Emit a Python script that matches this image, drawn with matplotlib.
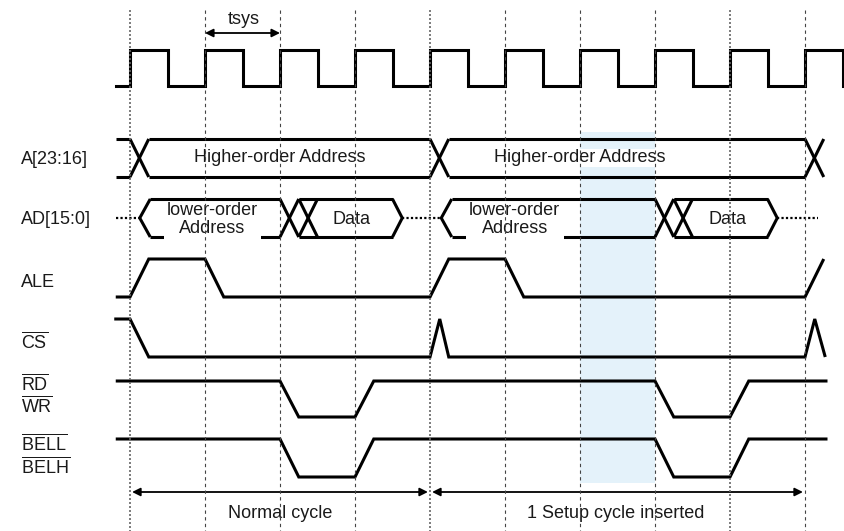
# timing diagram - normal bus cycle vs cycle with 1 setup cycle inserted

import matplotlib.pyplot as plt

plt.rcParams['font.family'] = ['Liberation Sans', 'DejaVu Sans']
plt.rcParams['mathtext.fontset'] = 'custom'
plt.rcParams['mathtext.rm'] = 'Liberation Sans'

# time unit = one clock period (tsys), 0 = first rising edge
CLK_T = [-0.19, 0, 0.5, 1, 1.5, 2, 2.5, 3, 3.5, 4, 4.5, 5, 5.5, 6, 6.5, 7, 7.5, 8, 8.5, 9, 9.5]
CLK_V = [0, 1, 0, 1, 0, 1, 0, 1, 0, 1, 0, 1, 0, 1, 0, 1, 0, 1, 0, 1, 0]

ALE_T = [-0.19, 0, 0.25, 1, 1.25, 4, 4.25, 5, 5.25, 9, 9.25]
ALE_V = [0, 0, 1, 1, 0, 0, 1, 1, 0, 0, 1]

CS_T = [-0.21, 0, 0.25, 4, 4.13, 4.25, 9, 9.13, 9.27]
CS_V = [1, 1, 0, 0, 1, 0, 0, 1, 0]

RDWR_T = [-0.19, 2, 2.25, 3, 3.25, 7, 7.25, 8, 8.25, 9.3]
RDWR_V = [1, 1, 0, 0, 1, 1, 0, 0, 1, 1]

BEL_T = [-0.19, 2, 2.25, 3, 3.25, 7, 7.25, 8, 8.25, 9.3]
BEL_V = [1, 1, 0, 0, 1, 1, 0, 0, 1, 1]

# bus A[23:16]
A_SEGMENTS = [(-0.19, 0), (0.25, 4), (4.25, 9)]
A_CROSSES = [0, 4, 9]
A_LABELS = ['Higher-order Address', 'Higher-order Address']
A_LABEL_T = [2.0, 6.0]

# bus AD[15:0]
AD_SEGMENTS = [(0.27, 2.0), (2.25, 3.5), (4.29, 7.0), (7.25, 8.5)]
AD_CROSSES = [2.0, 2.25, 7.0, 7.25]
AD_OPEN = [0.13, 4.15]
AD_CLOSE = [3.5, 8.5]
AD_FLOAT = [(-0.19, 0.13), (3.63, 4.15), (8.63, 9.17)]
AD_LABELS = ['lower-order\nAddress', 'Data', 'lower-order\nAddress', 'Data']
AD_LABEL_T = [1.1, 2.95, 5.13, 7.96]

SIGNAL_NAMES = ['A[23:16]', 'AD[15:0]', 'ALE', r'$\overline{\mathrm{CS}}$',
                r'$\overline{\mathrm{RD}}$', r'$\overline{\mathrm{WR}}$',
                r'$\overline{\mathrm{BELL}}$', r'$\overline{\mathrm{BELH}}$']
NAME_BASELINE = [164, 224, 287, 348, 390, 412, 450, 473]

GRID_T = [0, 1, 2, 3, 4, 5, 6, 7, 8, 9]
SETUP_CYCLE = (6, 7)
CYCLES = [(0, 4, 'Normal cycle', 2.0), (4, 9, '1 Setup cycle inserted', 6.47)]

# pixel rows (y goes down), high / low level
ROW = {
    'clk': (50, 86),
    'a': (139, 177),
    'ad': (199, 237),
    'ale': (259, 297),
    'cs': (319, 357),
    'rdwr': (381, 417),
    'bel': (439, 477),
}

LW = 2.2
INK = '#000000'
TXT = '#1a1a1a'
NAME_X = (21 - 130) / 75

fig = plt.figure(figsize=(8.45, 5.31), dpi=100)
ax = fig.add_axes([0, 0, 1, 1])
ax.set_xlim(-130 / 75, 715 / 75)
ax.set_ylim(531, 0)
ax.axis('off')


def level(row, values):
    hi, lo = ROW[row]
    return [lo + v * (hi - lo) for v in values]


def line(xs, ys, **kw):
    kw.setdefault('color', INK)
    kw.setdefault('lw', LW)
    ax.plot(xs, ys, solid_capstyle='butt', solid_joinstyle='miter', **kw)


# dashed clock grid
for t in GRID_T:
    if t in (0, 4, 8):
        ax.plot([t, t], [10, 531], color='#666666', lw=1.2, ls=(0, (1.2, 1.2)), zorder=6)
    else:
        ax.plot([t, t], [10, 531], color='#444444', lw=0.8, ls=(0, (3, 3)), zorder=6)

# shaded setup cycle
ax.fill_between(SETUP_CYCLE, 132, 483, color='#e4f2fa', lw=0, zorder=0)

# clock
ax.step(CLK_T, level('clk', CLK_V), where='post', color=INK, lw=LW,
        solid_joinstyle='miter')
ax.annotate('', xy=(2, 33), xytext=(1, 33),
            arrowprops=dict(arrowstyle='<|-|>', color=INK, lw=1.3,
                            mutation_scale=12, shrinkA=0, shrinkB=0))
ax.text(1.52, 20, 'tsys', ha='center', va='center', fontsize=13, color=TXT)

# plain signals
line(ALE_T, level('ale', ALE_V))
line(CS_T, level('cs', CS_V))
line(RDWR_T, level('rdwr', RDWR_V))
line(BEL_T, level('bel', BEL_V))

# A bus
top, bot = ROW['a']
for a, b in A_SEGMENTS:
    line([a, b], [top, top])
    line([a, b], [bot, bot])
for c in A_CROSSES:
    line([c, c + 0.25], [top, bot])
    line([c, c + 0.25], [bot, top])
for lab, t in zip(A_LABELS, A_LABEL_T):
    ax.text(t, (top + bot) / 2, lab, ha='center', va='center', fontsize=13, color=TXT,
            bbox=dict(fc='white', ec='none', pad=0.5))

# AD bus - top edge drawn above the labels, bottom edge below them
top, bot = ROW['ad']
mid = (top + bot) / 2
for a, b in AD_SEGMENTS:
    line([a, b], [top, top], zorder=5)
    line([a, b], [bot, bot])
for c in AD_CROSSES:
    line([c, c + 0.25], [top, bot])
    line([c, c + 0.25], [bot, top])
for c in AD_OPEN:
    line([c + 0.14, c, c + 0.14], [top, mid, bot])
for c in AD_CLOSE:
    line([c, c + 0.13, c], [top, mid, bot])
for a, b in AD_FLOAT:
    ax.plot([a, b], [mid, mid], color=INK, lw=1.6, ls=(0, (1, 1)))
for lab, t in zip(AD_LABELS, AD_LABEL_T):
    ax.text(t, mid + 1.5, lab, ha='center', va='center', fontsize=13, color=TXT,
            linespacing=1.1, bbox=dict(fc='white', ec='none', pad=2.5))

# signal names
for name, yb in zip(SIGNAL_NAMES, NAME_BASELINE):
    ax.text(NAME_X, yb, name, ha='left', va='baseline', fontsize=13, color=TXT)

# cycle arrows
for a, b, lab, t in CYCLES:
    ax.annotate('', xy=(b, 492), xytext=(a, 492),
                arrowprops=dict(arrowstyle='<|-|>', color=INK, lw=1.3,
                                mutation_scale=12, shrinkA=1.5, shrinkB=1.5))
    ax.text(t, 513, lab, ha='center', va='center', fontsize=13, color=TXT)

plt.savefig('out.png', dpi=100)
